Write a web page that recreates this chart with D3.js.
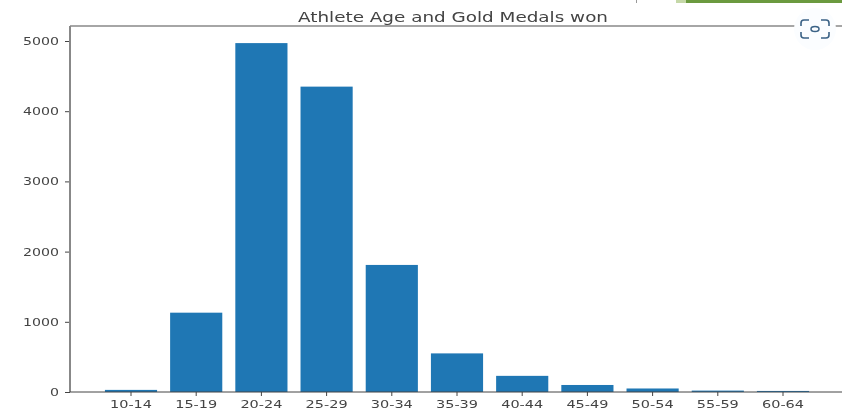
<!DOCTYPE html>
<html>
<head>
<meta charset="utf-8">
<script src="https://cdn.jsdelivr.net/npm/d3@7"></script>
<style>
html, body { margin: 0; padding: 0; background: #fff; }
text { font-family: "DejaVu Sans", sans-serif; fill: #444; }
.chartGroup { filter: blur(0.45px); }
</style>
</head>
<body>
<div id="chart"></div>
<script>
// data
var ageGroups = ["10-14", "15-19", "20-24", "25-29", "30-34", "35-39", "40-44", "45-49", "50-54", "55-59", "60-64"];
var goldMedals = [30, 1130, 4970, 4350, 1810, 550, 230, 100, 50, 20, 15];
var yTicks = [0, 1000, 2000, 3000, 4000, 5000];

var svgWidth = 842;
var svgHeight = 412;

var svg = d3.select("#chart").append("svg")
    .attr("width", svgWidth)
    .attr("height", svgHeight)
    .style("display", "block");

var chartGroup = svg.append("g").attr("class", "chartGroup");

// bands and value scale, fitted to the frame of the plot
var xBandScale = d3.scaleBand()
    .domain(ageGroups)
    .range([98.4, 815.6])
    .paddingInner(0.2)
    .paddingOuter(0.1);

var yLinearScale = d3.scaleLinear()
    .domain([0, 5000])
    .range([392, 41]);

// bars
chartGroup.selectAll(".bar")
    .data(ageGroups)
    .enter()
    .append("rect")
    .attr("class", "bar")
    .attr("x", d => xBandScale(d))
    .attr("y", (d, i) => yLinearScale(goldMedals[i]))
    .attr("width", xBandScale.bandwidth())
    .attr("height", (d, i) => 392 - yLinearScale(goldMedals[i]))
    .attr("fill", "#1f77b4");

// axes
var bottomAxis = d3.axisBottom(xBandScale).tickSize(4).tickPadding(4).tickSizeOuter(0);
var leftAxis = d3.axisLeft(yLinearScale).tickValues(yTicks).tickFormat(d3.format("d")).tickSize(5).tickPadding(6);

var xAxis = chartGroup.append("g")
    .attr("transform", "translate(0, 392)")
    .call(bottomAxis);

var yAxis = chartGroup.append("g")
    .attr("transform", "translate(70, 0)")
    .call(leftAxis);

xAxis.select(".domain").remove();
yAxis.select(".domain").remove();

// the picture is stretched sideways, so the labels are wider than the font
xAxis.selectAll("text")
    .attr("textLength", 42)
    .attr("lengthAdjust", "spacingAndGlyphs")
    .style("font-family", "'DejaVu Sans', sans-serif")
    .style("font-size", "11px")
    .style("fill", "#444");

yAxis.selectAll("text")
    .attr("textLength", d => String(d).length * 9)
    .attr("lengthAdjust", "spacingAndGlyphs")
    .style("font-family", "'DejaVu Sans', sans-serif")
    .style("font-size", "11px")
    .style("fill", "#444");

xAxis.selectAll("line").attr("stroke", "#444");
yAxis.selectAll("line").attr("stroke", "#444");

// frame of the plot, it runs off the right side of the picture
chartGroup.append("line")
    .attr("x1", 70).attr("x2", 842).attr("y1", 26).attr("y2", 26)
    .attr("stroke", "#888").attr("stroke-width", 1.5);
chartGroup.append("line")
    .attr("x1", 70).attr("x2", 70).attr("y1", 26).attr("y2", 392)
    .attr("stroke", "#888").attr("stroke-width", 2);
chartGroup.append("line")
    .attr("x1", 70).attr("x2", 842).attr("y1", 392).attr("y2", 392)
    .attr("stroke", "#444").attr("stroke-width", 1);

// title
chartGroup.append("text")
    .attr("x", 453)
    .attr("y", 22)
    .attr("text-anchor", "middle")
    .attr("textLength", 310)
    .attr("lengthAdjust", "spacingAndGlyphs")
    .style("font-size", "14px")
    .text("Athlete Age and Gold Medals won");

// leftovers of the screenshot: green strip, small mark and lens button
svg.append("rect").attr("x", 676).attr("y", 0).attr("width", 10).attr("height", 3).attr("fill", "#c5d8a8");
svg.append("rect").attr("x", 686).attr("y", 0).attr("width", 156).attr("height", 3).attr("fill", "#6b9a3f");
svg.append("rect").attr("x", 636).attr("y", 0).attr("width", 1).attr("height", 3).attr("fill", "#999");

var lens = svg.append("g").attr("transform", "translate(815, 29)");
lens.append("circle").attr("r", 21).attr("fill", "#fbfdff");
lens.append("ellipse").attr("rx", 4).attr("ry", 2.5).attr("fill", "none").attr("stroke", "#3b6286").attr("stroke-width", 1.5);
lens.append("path")
    .attr("d", "M-14,-3 V-6 Q-14,-9 -11,-9 H-6 M6,-9 H11 Q14,-9 14,-6 V-3 M14,3 V6 Q14,9 11,9 H6 M-6,9 H-11 Q-14,9 -14,6 V3")
    .attr("fill", "none")
    .attr("stroke", "#3b6286")
    .attr("stroke-width", 1.6);
</script>
</body>
</html>
